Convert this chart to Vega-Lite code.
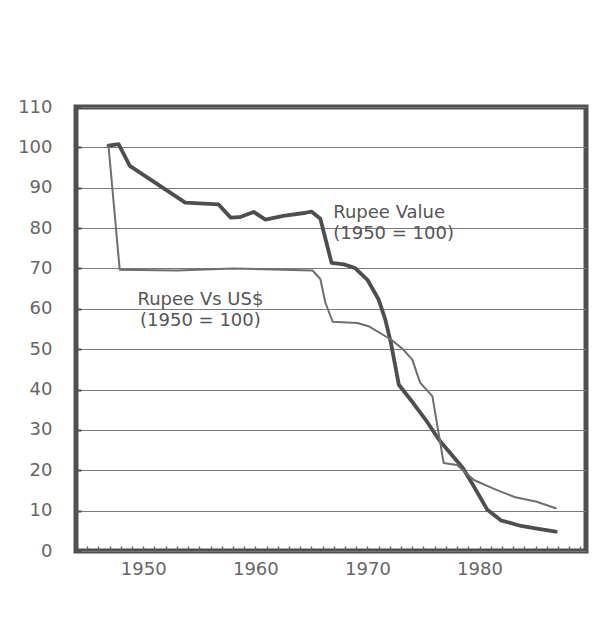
{
  "$schema": "https://vega.github.io/schema/vega-lite/v6.json",
  "width": 510,
  "height": 444,
  "autosize": {"type": "none"},
  "padding": {"left": 76, "top": 107, "right": 16, "bottom": 91},
  "background": "#ffffff",
  "config": {
    "view": {"stroke": "#505050", "strokeWidth": 5},
    "font": "DejaVu Sans"
  },
  "datasets": {
    "series": [
      {"series": "Rupee Value", "year": 1946.9, "value": 100.4},
      {"series": "Rupee Value", "year": 1947.8, "value": 100.8},
      {"series": "Rupee Value", "year": 1948.8, "value": 95.4},
      {"series": "Rupee Value", "year": 1953.75, "value": 86.3},
      {"series": "Rupee Value", "year": 1956.7, "value": 85.9},
      {"series": "Rupee Value", "year": 1957.8, "value": 82.6},
      {"series": "Rupee Value", "year": 1958.6, "value": 82.7},
      {"series": "Rupee Value", "year": 1959.85, "value": 84.0},
      {"series": "Rupee Value", "year": 1960.9, "value": 82.1},
      {"series": "Rupee Value", "year": 1962.5, "value": 83.0},
      {"series": "Rupee Value", "year": 1964.5, "value": 83.8},
      {"series": "Rupee Value", "year": 1965.0, "value": 84.1},
      {"series": "Rupee Value", "year": 1965.8, "value": 82.3},
      {"series": "Rupee Value", "year": 1966.8, "value": 71.4},
      {"series": "Rupee Value", "year": 1967.9, "value": 71.0},
      {"series": "Rupee Value", "year": 1968.9, "value": 70.1},
      {"series": "Rupee Value", "year": 1970.0, "value": 67.2},
      {"series": "Rupee Value", "year": 1971.0, "value": 62.3},
      {"series": "Rupee Value", "year": 1971.6, "value": 57.3},
      {"series": "Rupee Value", "year": 1972.1, "value": 51.5},
      {"series": "Rupee Value", "year": 1972.8, "value": 41.2},
      {"series": "Rupee Value", "year": 1974.1, "value": 36.6},
      {"series": "Rupee Value", "year": 1975.3, "value": 32.1},
      {"series": "Rupee Value", "year": 1976.4, "value": 27.5},
      {"series": "Rupee Value", "year": 1977.4, "value": 24.2},
      {"series": "Rupee Value", "year": 1978.5, "value": 20.6},
      {"series": "Rupee Value", "year": 1979.5, "value": 16.0},
      {"series": "Rupee Value", "year": 1980.7, "value": 10.2},
      {"series": "Rupee Value", "year": 1981.9, "value": 7.6},
      {"series": "Rupee Value", "year": 1983.7, "value": 6.2},
      {"series": "Rupee Value", "year": 1985.4, "value": 5.4},
      {"series": "Rupee Value", "year": 1986.8, "value": 4.8},
      {"series": "Rupee Vs US$", "year": 1946.9, "value": 100.4},
      {"series": "Rupee Vs US$", "year": 1947.9, "value": 69.7},
      {"series": "Rupee Vs US$", "year": 1953.0, "value": 69.5},
      {"series": "Rupee Vs US$", "year": 1958.0, "value": 70.0},
      {"series": "Rupee Vs US$", "year": 1965.1, "value": 69.5},
      {"series": "Rupee Vs US$", "year": 1965.8, "value": 67.4},
      {"series": "Rupee Vs US$", "year": 1966.25, "value": 61.5},
      {"series": "Rupee Vs US$", "year": 1966.9, "value": 56.8},
      {"series": "Rupee Vs US$", "year": 1969.1, "value": 56.5},
      {"series": "Rupee Vs US$", "year": 1970.1, "value": 55.7},
      {"series": "Rupee Vs US$", "year": 1972.1, "value": 52.4},
      {"series": "Rupee Vs US$", "year": 1973.2, "value": 49.9},
      {"series": "Rupee Vs US$", "year": 1974.0, "value": 47.4},
      {"series": "Rupee Vs US$", "year": 1974.7, "value": 41.7},
      {"series": "Rupee Vs US$", "year": 1975.8, "value": 38.3},
      {"series": "Rupee Vs US$", "year": 1976.1, "value": 33.3},
      {"series": "Rupee Vs US$", "year": 1976.4, "value": 28.4},
      {"series": "Rupee Vs US$", "year": 1976.8, "value": 21.8},
      {"series": "Rupee Vs US$", "year": 1978.0, "value": 21.3},
      {"series": "Rupee Vs US$", "year": 1979.5, "value": 17.6},
      {"series": "Rupee Vs US$", "year": 1981.3, "value": 15.4},
      {"series": "Rupee Vs US$", "year": 1983.1, "value": 13.4},
      {"series": "Rupee Vs US$", "year": 1985.1, "value": 12.2},
      {"series": "Rupee Vs US$", "year": 1986.8, "value": 10.6}
    ],
    "labelsLeft": [
      {"text": "Rupee Value|(1950 = 100)", "year": 1966.95, "value": 82.4}
    ],
    "labelsCenter": [
      {"text": "Rupee Vs US$|(1950 = 100)", "year": 1955.1, "value": 61.0}
    ]
  },
  "layer": [
    {
      "data": {"name": "series"},
      "mark": {"type": "line", "strokeJoin": "round", "strokeCap": "round"},
      "encoding": {
        "x": {
          "field": "year", "type": "quantitative",
          "scale": {"domain": [1944, 1989.5], "nice": false, "zero": false},
          "axis": {
            "title": null,
            "values": [1945,1946,1947,1948,1949,1950,1951,1952,1953,1954,1955,1956,1957,1958,1959,1960,1961,1962,1963,1964,1965,1966,1967,1968,1969,1970,1971,1972,1973,1974,1975,1976,1977,1978,1979,1980,1981,1982,1983,1984,1985,1986,1987,1988,1989],
            "tickCount": 200,
            "format": "d",
            "labelExpr": "datum.value % 10 == 0 ? datum.label : ''",
            "domain": false,
            "grid": false,
            "tickSize": -5,
            "tickColor": "#606060",
            "tickWidth": 1.3,
            "labelPadding": 14,
            "labelFontSize": 18,
            "labelColor": "#666666",
            "labelFont": "DejaVu Sans",
            "labelFlush": false,
            "labelOverlap": false
          }
        },
        "y": {
          "field": "value", "type": "quantitative",
          "scale": {"domain": [0, 110], "nice": false},
          "axis": {
            "title": null,
            "values": [0,10,20,30,40,50,60,70,80,90,100,110],
            "tickCount": 50,
            "domain": false,
            "grid": true,
            "gridColor": "#7a7a7a",
            "gridWidth": 1.2,
            "gridOpacity": 1,
            "tickSize": -5,
            "tickColor": "#505050",
            "tickWidth": 2,
            "labelPadding": 29,
            "labelFontSize": 18,
            "labelColor": "#666666",
            "labelFont": "DejaVu Sans",
            "labelFlush": false,
            "labelOverlap": false
          }
        },
        "detail": {"field": "series", "type": "nominal"},
        "color": {
          "field": "series", "type": "nominal",
          "scale": {"domain": ["Rupee Value", "Rupee Vs US$"], "range": ["#4e4e4e", "#6e6e6e"]},
          "legend": null
        },
        "strokeWidth": {
          "field": "series", "type": "nominal",
          "scale": {"domain": ["Rupee Value", "Rupee Vs US$"], "range": [3.8, 2]},
          "legend": null
        }
      }
    },
    {
      "data": {"name": "labelsLeft"},
      "mark": {"type": "text", "align": "left", "baseline": "alphabetic", "fontSize": 18, "lineBreak": "|", "lineHeight": 21, "color": "#555555", "font": "DejaVu Sans"},
      "encoding": {
        "x": {"field": "year", "type": "quantitative"},
        "y": {"field": "value", "type": "quantitative"},
        "text": {"field": "text", "type": "nominal"}
      }
    },
    {
      "data": {"name": "labelsCenter"},
      "mark": {"type": "text", "align": "center", "baseline": "alphabetic", "fontSize": 18, "lineBreak": "|", "lineHeight": 21, "color": "#555555", "font": "DejaVu Sans"},
      "encoding": {
        "x": {"field": "year", "type": "quantitative"},
        "y": {"field": "value", "type": "quantitative"},
        "text": {"field": "text", "type": "nominal"}
      }
    }
  ]
}
